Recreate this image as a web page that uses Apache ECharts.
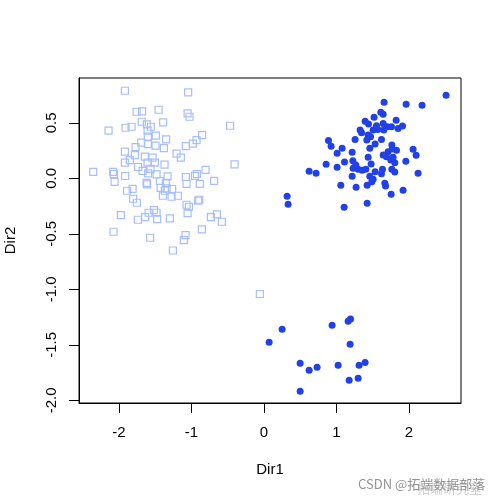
<!DOCTYPE html>
<html>
<head>
<meta charset="utf-8">
<script src="https://cdn.jsdelivr.net/npm/echarts@6/dist/echarts.min.js"></script>
<style>
html,body{margin:0;padding:0;background:#fff;}
#chart{width:502px;height:502px;}
</style>
</head>
<body>
<div id="chart"></div>
<script>
// Group 1 (open light squares): [Dir1, Dir2]
const lightPoints = [
[-1.917,0.789],[-1.044,0.775],[-1.756,0.600],[-1.679,0.604],[-1.452,0.618],[-1.052,0.586],[-1.025,0.555],
[-2.142,0.429],[-1.908,0.456],[-1.825,0.465],[-1.683,0.510],[-1.614,0.486],[-1.559,0.465],[-1.389,0.505],
[-0.465,0.474],[-1.604,0.429],[-1.600,0.375],[-1.490,0.384],[-1.348,0.351],[-0.851,0.390],[-0.928,0.345],
[-0.979,0.312],[-1.076,0.291],[-1.692,0.321],[-1.600,0.309],[-1.494,0.294],[-1.770,0.282],[-1.379,0.273],
[-1.917,0.240],[-1.779,0.210],[-1.204,0.222],[-1.145,0.186],[-1.641,0.195],[-1.535,0.186],[-1.848,0.165],
[-1.917,0.141],[-1.604,0.141],[-1.503,0.141],[-1.370,0.123],[-0.404,0.126],[-2.354,0.059],[-2.079,0.059],
[-2.069,0.039],[-1.734,0.102],[-1.673,0.068],[-1.563,0.086],[-1.596,0.045],[-1.480,0.036],[-1.328,0.018],
[-1.913,0.021],[-1.076,0.012],[-0.952,0.023],[-0.924,0.039],[-0.804,0.077],[-2.059,-0.031],[-1.618,-0.040],
[-1.610,-0.054],[-1.434,-0.024],[-1.352,-0.040],[-1.066,-0.049],[-0.883,-0.049],[-0.686,-0.022],[-1.886,-0.112],
[-1.811,-0.094],[-1.425,-0.085],[-1.342,-0.090],[-1.265,-0.096],[-1.366,-0.112],[-1.803,-0.184],[-1.752,-0.220],
[-1.393,-0.157],[-1.273,-0.166],[-1.186,-0.157],[-0.906,-0.202],[-0.892,-0.193],[-1.066,-0.238],[-1.034,-0.256],
[-1.972,-0.331],[-1.738,-0.373],[-1.637,-0.349],[-1.590,-0.310],[-1.517,-0.286],[-1.480,-0.310],[-1.472,-0.367],
[-1.297,-0.360],[-1.052,-0.313],[-0.731,-0.349],[-0.648,-0.324],[-0.579,-0.391],[-2.073,-0.481],[-1.568,-0.535],
[-1.080,-0.511],[-1.103,-0.556],[-0.855,-0.459],[-1.255,-0.650],[-0.055,-1.042]
];
// Group 2 (filled dark circles), upper-right cluster
const darkUpper = [
[2.514,0.748],[1.659,0.685],[1.963,0.667],[2.183,0.658],[1.614,0.595],[1.646,0.577],[1.521,0.550],[1.397,0.514],
[1.444,0.489],[1.825,0.523],[1.554,0.474],[1.646,0.495],[1.701,0.465],[1.761,0.465],[1.852,0.450],[1.913,0.471],
[1.328,0.435],[1.348,0.411],[1.508,0.435],[1.572,0.441],[1.655,0.435],[1.439,0.390],[1.472,0.375],[1.421,0.345],
[1.259,0.351],[1.623,0.351],[0.892,0.342],[0.928,0.288],[1.535,0.309],[1.462,0.270],[1.080,0.270],[1.011,0.225],
[1.218,0.234],[1.766,0.300],[1.770,0.264],[1.830,0.252],[1.714,0.240],[1.646,0.210],[1.692,0.195],[1.783,0.189],
[1.752,0.165],[1.807,0.141],[2.059,0.261],[2.101,0.207],[1.959,0.153],[1.439,0.189],[1.113,0.147],[0.859,0.126],
[1.228,0.159],[1.269,0.120],[1.232,0.090],[1.301,0.081],[1.356,0.072],[1.407,0.081],[1.480,0.129],[1.011,0.099],
[0.625,0.063],[0.721,0.045],[1.535,0.059],[1.637,0.081],[1.623,0.041],[1.766,0.081],[1.807,0.057],[2.128,0.045],
[1.218,0.018],[1.462,0.018],[1.508,-0.009],[1.490,-0.031],[1.425,-0.063],[1.062,-0.063],[1.273,-0.081],[1.669,-0.045],
[1.679,-0.069],[1.921,-0.108],[1.756,-0.144],[0.321,-0.162],[0.335,-0.234],[1.108,-0.261],[1.425,-0.225]
];
// Group 2, lower cluster
const darkLower = [
[0.252,-1.360],[0.073,-1.477],[0.942,-1.324],[1.163,-1.288],[1.196,-1.268],[1.190,-1.495],[0.501,-1.667],
[0.625,-1.730],[0.735,-1.703],[1.025,-1.685],[1.314,-1.685],[1.397,-1.658],[1.177,-1.820],[1.301,-1.802],[0.501,-1.919]
];
const xTicks = [-2,-1,0,1,2];
const yTicks = [-2.0,-1.5,-1.0,-0.5,0.0,0.5];
const xName = 'Dir1';
const yName = 'Dir2';

const chart = echarts.init(document.getElementById('chart'), null, {renderer:'canvas'});
const font = 'Liberation Sans, Arial, sans-serif';
chart.setOption({
  animation:false,
  backgroundColor:'#fff',
  grid:{left:79,right:41,top:78,bottom:99,containLabel:false,outerBoundsMode:'none',
        show:true,borderColor:'#000',borderWidth:1,backgroundColor:'transparent'},
  xAxis:{
    type:'value',min:-2.55,max:2.72,position:'bottom',
    name:xName,nameLocation:'middle',nameGap:59,
    nameTextStyle:{fontFamily:font,fontSize:15,color:'#000'},
    axisLine:{show:true,onZero:false,lineStyle:{color:'#000',width:1}},
    splitLine:{show:false},
    axisTick:{show:true,inside:false,length:10,customValues:xTicks,lineStyle:{color:'#000',width:1}},
    axisLabel:{customValues:xTicks,margin:22,fontFamily:font,fontSize:15,color:'#000',formatter:v=>String(v)}
  },
  yAxis:{
    type:'value',min:-2.024,max:0.904,position:'left',
    name:yName,nameLocation:'middle',nameGap:61,nameRotate:90,
    nameTextStyle:{fontFamily:font,fontSize:15,color:'#000'},
    axisLine:{show:true,onZero:false,lineStyle:{color:'#000',width:1}},
    splitLine:{show:false},
    axisTick:{show:true,inside:false,length:10,customValues:yTicks,lineStyle:{color:'#000',width:1}},
    axisLabel:{customValues:yTicks,rotate:90,margin:20,fontFamily:font,fontSize:15,color:'#000',formatter:v=>Number(v).toFixed(1)}
  },
  series:[
    {type:'scatter',data:lightPoints,symbol:'rect',symbolSize:7,
     itemStyle:{color:'rgba(0,0,0,0)',borderColor:'#A7BEFC',borderWidth:1.2,opacity:1}},
    {type:'scatter',data:darkUpper.concat(darkLower),symbol:'circle',symbolSize:7,
     itemStyle:{color:'#2141E6',opacity:1}}
  ],
  graphic:[
    {type:'text',left:358,top:478,style:{text:'CSDN @拓端数据部落',fontFamily:'Noto Sans CJK SC, sans-serif',fontSize:13,fill:'rgba(120,120,120,0.8)'}},
    {type:'text',left:417,top:482,style:{text:'拓端研究室',fontFamily:'Noto Sans CJK SC, sans-serif',fontSize:13,fill:'rgba(150,150,150,0.45)'}}
  ]
});
</script>
</body>
</html>
